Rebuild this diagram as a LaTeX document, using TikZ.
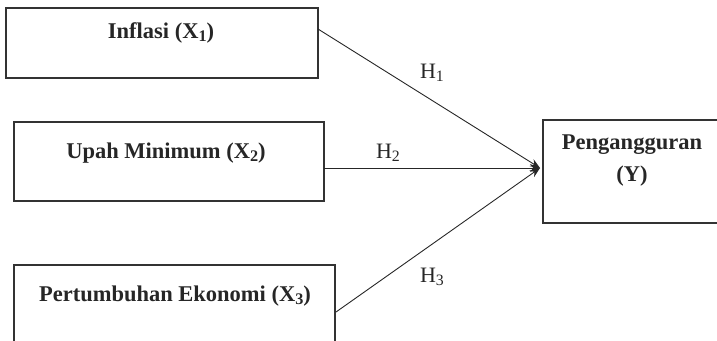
\documentclass[tikz,border=0pt]{standalone}
\usepackage{fontspec}
\setmainfont{Liberation Serif}
\usetikzlibrary{arrows.meta}
\newcommand{\lowidx}[1]{\raisebox{-0.12em}{\scalebox{0.72}{#1}}}
\begin{document}
\begin{tikzpicture}[x=1pt,y=-1pt,
  varbox/.style={draw=black!80,line width=1.1pt,inner sep=0pt},
  vartext/.style={font=\bfseries\fontsize{22.5}{32}\selectfont,text=black!85,align=center},
  link/.style={draw=black!85,line width=0.9pt,-{Stealth[length=10pt,width=8pt]}},
  hyp/.style={font=\fontsize{22}{26}\selectfont,text=black!85}]
  \useasboundingbox (0,0) rectangle (717,340);
  \begin{scope}
    \clip (0,0) rectangle (717,340);
    % independent variables
    \draw[varbox] (6,8) rectangle (318,78);
    \draw[varbox] (14,122) rectangle (324,201);
    \draw[varbox] (14,265) rectangle (335,360);
    % dependent variable
    \draw[varbox] (543,120) rectangle (730,223);
  \end{scope}
  \node[vartext] (x1) at (161,33) {Inflasi (X\lowidx{1})};
  \node[vartext] (x2) at (166,153) {Upah Minimum (X\lowidx{2})};
  \node[vartext] (x3) at (175,296) {Pertumbuhan Ekonomi (X\lowidx{3})};
  \node[vartext] (y) at (632,161) {Pengangguran\\(Y)};
  % connector end points on the box edges
  \coordinate (s1) at (318,29);
  \coordinate (s2) at (324,168);
  \coordinate (s3) at (336,312);
  \coordinate (t) at (540,168);
  \draw[link] (s1) -- (t);
  \draw[link] (s2) -- (t);
  \draw[link] (s3) -- (t);
  \node[hyp] (h1) at (432,73) {H\lowidx{1}};
  \node[hyp] (h2) at (388,153) {H\lowidx{2}};
  \node[hyp] (h3) at (432,277) {H\lowidx{3}};
\end{tikzpicture}
\end{document}
